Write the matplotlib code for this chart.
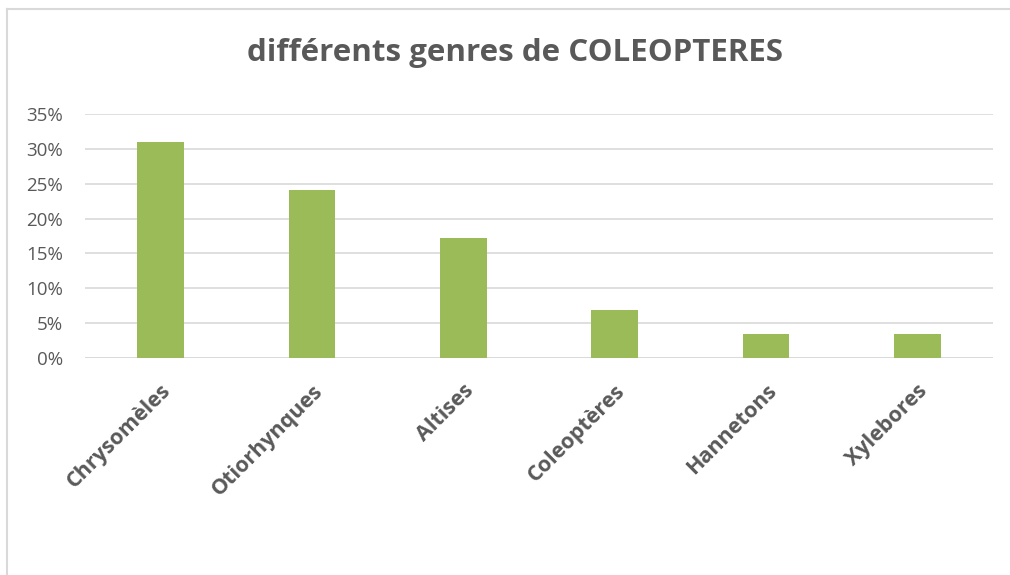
import matplotlib.pyplot as plt
from matplotlib.lines import Line2D
from matplotlib.ticker import PercentFormatter

# données
genres = ['Chrysomèles', 'Otiorhynques', 'Altises', 'Coleoptères', 'Hannetons', 'Xylebores']
parts = [0.310, 0.241, 0.172, 0.069, 0.034, 0.034]
yticks = [0, 0.05, 0.10, 0.15, 0.20, 0.25, 0.30, 0.35]

W, H = 1010, 575
fig = plt.figure(figsize=(W / 100, H / 100), dpi=100)

# cadre du graphique (seulement haut et gauche visibles)
fx, fy = 7 / W, 1 - 9 / H
fig.lines.append(Line2D([fx, 1.0], [fy, fy], transform=fig.transFigure,
                        color='#d9d9d9', linewidth=1.5))
fig.lines.append(Line2D([fx, fx], [0, fy], transform=fig.transFigure,
                        color='#d9d9d9', linewidth=1.5))

ax = fig.add_axes([85 / W, 1 - 358 / H, (993 - 85) / W, (358 - 114) / H])

x = range(len(genres))
ax.bar(x, parts, width=0.31, color='#9bbb59', zorder=3)

ax.set_ylim(0, 0.35)
ax.set_xlim(-0.5, len(genres) - 0.5)
ax.set_yticks(yticks)
ax.yaxis.set_major_formatter(PercentFormatter(1.0, decimals=0))
ax.grid(axis='y', color='#d9d9d9', linewidth=1.2, zorder=0)

for s in ax.spines.values():
    s.set_visible(False)
ax.axhline(0, color='#d9d9d9', linewidth=1.2, zorder=2)

ax.tick_params(axis='both', length=0)
ax.tick_params(axis='y', pad=16, labelsize=13.5, labelcolor='#595959')
ax.set_xticks(list(x))
ax.set_xticklabels(genres, rotation=45, ha='right', rotation_mode='anchor',
                   fontsize=15.5, fontweight='bold', color='#595959',
                   family='Open Sans')
ax.tick_params(axis='x', pad=16)
for lab in ax.get_yticklabels():
    lab.set_family('Open Sans')

fig.text(515 / W, 1 - 53 / H, 'différents genres de COLEOPTERES',
         ha='center', va='center', fontsize=22.5, fontweight='bold',
         color='#595959', family='Open Sans')

fig.savefig('out.png', dpi=100)
